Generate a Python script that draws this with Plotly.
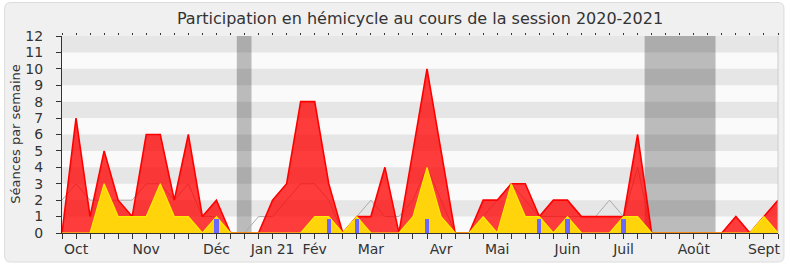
import plotly.graph_objects as go

weeks = list(range(52))
seances_total = [0, 7, 1, 5, 2, 1, 6, 6, 2, 6, 1, 2, 0, 0, 0, 2, 3, 8, 8, 3,
                 0, 1, 1, 4, 0, 5, 10, 5, 0, 0, 2, 2, 3, 3, 1, 2, 2, 1, 1, 1,
                 1, 6, 0, 0, 0, 0, 0, 0, 1, 0, 1, 2]
seances_hemicycle = [0, 0, 0, 3, 1, 1, 1, 3, 1, 1, 0, 1, 0, 0, 0, 0, 0, 0, 1, 1,
                     0, 1, 0, 0, 0, 1, 4, 1, 0, 0, 1, 0, 3, 1, 1, 0, 1, 0, 0, 0,
                     1, 1, 0, 0, 0, 0, 0, 0, 0, 0, 1, 0]
mediane = [2, 3, 2, 2, 2, 2, 3, 3, 2, 3, 1, 1, 0, 0, 1, 1, 2, 3, 3, 2,
           0, 1, 2, 1, 1, 2, 4, 2, 0, 0, 1, 2, 3, 2, 1, 1, 1, 1, 1, 2,
           1, 4, 0, 0, 0, 0, 0, 0, 1, 0, 1, 2]
questions_weeks = [11, 19, 21, 26, 34, 36, 40]
questions_vals = [0.85, 0.85, 0.85, 0.85, 0.85, 0.85, 0.85]
month_weeks = [1, 6, 11, 15, 18, 22, 27, 31, 36, 40, 45, 50]
month_labels = ["Oct", "Nov", "Déc", "Jan 21", "Fév", "Mar", "Avr", "Mai",
                "Juin", "Juil", "Août", "Sept"]
vacances = [(12.45, 13.5), (41.5, 46.55)]
y_ticks = list(range(13))

FONT = "DejaVu Sans"
W, H = 790, 267
ML, MR, MT, MB = 62, 10, 36, 34
pw, ph = W - ML - MR, H - MT - MB

fig = go.Figure()

fig.add_trace(go.Scatter(x=weeks, y=mediane, mode="lines",
                         line=dict(color="rgb(170,170,170)", width=1),
                         hoverinfo="skip", showlegend=False))
fig.add_trace(go.Scatter(x=weeks, y=seances_total, mode="lines", fill="tozeroy",
                         fillcolor="rgba(255,0,0,0.76)",
                         line=dict(color="rgb(255,0,0)", width=1.6),
                         showlegend=False))
fig.add_trace(go.Scatter(x=weeks, y=seances_hemicycle, mode="lines", fill="tozeroy",
                         fillcolor="rgb(255,212,10)",
                         line=dict(color="rgb(255,235,0)", width=1.2),
                         showlegend=False))
fig.add_trace(go.Bar(x=questions_weeks, y=questions_vals, width=0.3, yaxis="y2",
                     marker=dict(color="rgb(105,105,255)", line=dict(width=0)),
                     showlegend=False))

shapes = []
def px(x):
    return (x - ML) / pw
def py(y):
    return (H - MB - y) / ph
x0, x1, yt, yb, r = 4.5, 786, 2.5, 262, 6
path = (f"M {px(x0+r)},{py(yt)} L {px(x1-r)},{py(yt)} Q {px(x1)},{py(yt)} {px(x1)},{py(yt+r)} "
        f"L {px(x1)},{py(yb-r)} Q {px(x1)},{py(yb)} {px(x1-r)},{py(yb)} "
        f"L {px(x0+r)},{py(yb)} Q {px(x0)},{py(yb)} {px(x0)},{py(yb-r)} "
        f"L {px(x0)},{py(yt+r)} Q {px(x0)},{py(yt)} {px(x0+r)},{py(yt)} Z")
shapes.append(dict(type="path", path=path, xref="paper", yref="paper",
                   fillcolor="#f0f0f0", line=dict(color="#dcdcdc", width=1),
                   layer="below"))
shapes.append(dict(type="rect", xref="paper", yref="paper", x0=0, x1=1, y0=0, y1=1,
                   fillcolor="#fafafa", line=dict(width=0), layer="below"))
for k in range(1, 12, 2):
    shapes.append(dict(type="rect", xref="paper", yref="y", x0=0, x1=1, y0=k, y1=k + 1,
                       fillcolor="#e6e6e6", line=dict(width=0), layer="below"))
for a, b in vacances:
    shapes.append(dict(type="rect", xref="x", yref="paper", x0=a, x1=b, y0=0, y1=1,
                       fillcolor="rgba(0,0,0,0.25)", line=dict(width=0), layer="below"))
shapes.append(dict(type="line", xref="paper", yref="paper", x0=1, x1=1, y0=0, y1=1,
                   line=dict(color="#cccccc", width=1)))

ticktext = ["" for _ in weeks]
for w, lab in zip(month_weeks, month_labels):
    ticktext[w] = lab

fig.update_layout(
    width=W, height=H,
    margin=dict(l=ML, r=MR, t=MT, b=MB),
    paper_bgcolor="white", plot_bgcolor="rgba(0,0,0,0)",
    font=dict(family=FONT, color="#333333"),
    title=dict(text="Participation en hémicycle au cours de la session 2020-2021",
               x=0.5, xref="paper", y=1 - 18 / H, yanchor="middle",
               font=dict(size=16, color="#333333")),
    shapes=shapes,
    annotations=[dict(text="Séances par semaine", xref="paper", yref="paper",
                      x=px(15), y=0.5, textangle=-90, showarrow=False,
                      xanchor="center", yanchor="middle",
                      font=dict(size=13, color="#333333"))],
    bargap=0,
    xaxis=dict(range=[0, 51], tickmode="array", tickvals=weeks, ticktext=ticktext,
               ticks="outside", ticklen=5, tickcolor="#333333", tickwidth=1,
               showline=True, linecolor="#333333", linewidth=1,
               showgrid=False, zeroline=False, tickangle=0,
               ticklabelstandoff=-2,
               tickfont=dict(size=14, color="#333333")),
    xaxis2=dict(range=[0, 51], overlaying="x", side="top", tickmode="array",
                tickvals=weeks, ticktext=["" for _ in weeks], ticks="outside",
                ticklen=2, tickcolor="#333333", showline=False, showgrid=False,
                zeroline=False),
    yaxis=dict(range=[0, 12], tickmode="array", tickvals=y_ticks,
               ticks="outside", ticklen=5, tickcolor="#333333",
               showline=True, linecolor="#333333", linewidth=1,
               showgrid=False, zeroline=False,
               tickfont=dict(size=14, color="#333333"),
               ticklabelstandoff=10),
    yaxis2=dict(range=[0, 12], overlaying="y", visible=False, showgrid=False,
                zeroline=False),
)
fig.add_trace(go.Scatter(x=[0], y=[0], xaxis="x2", mode="markers",
                         marker=dict(opacity=0), hoverinfo="skip", showlegend=False))

fig.write_html("out.html")
